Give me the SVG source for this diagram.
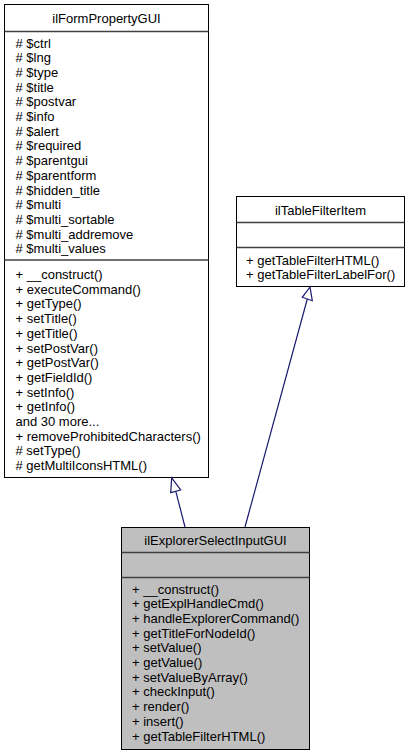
<svg xmlns="http://www.w3.org/2000/svg" width="413" height="756" viewBox="0 0 413 756">
<style>
.box{fill:#fff;stroke:#000;stroke-width:1}
.cur{fill:#bfbfbf;stroke:#000;stroke-width:1}
.sep{stroke:#404040;stroke-width:1.5}
text{font-family:"Liberation Sans",Arial,sans-serif;font-size:13px;fill:#000}
.t{text-anchor:middle}
.edge{stroke:#191970;stroke-width:1.2;fill:none}
.head{stroke:#191970;stroke-width:1.2;fill:#fff}
</style>
<rect width="413" height="756" fill="#fff"/>
<g id="node_ilFormPropertyGUI">
<rect class="box" x="4.5" y="4.5" width="204" height="473"/>
<line class="sep" x1="4.5" y1="31.5" x2="208.5" y2="31.5"/>
<line class="sep" x1="4.5" y1="260" x2="208.5" y2="260"/>
<text class="t" x="106.5" y="22.5">ilFormPropertyGUI</text>
<text x="15.5" y="47.5"># $ctrl</text>
<text x="15.5" y="62.2"># $lng</text>
<text x="15.5" y="76.9"># $type</text>
<text x="15.5" y="91.6"># $title</text>
<text x="15.5" y="106.3"># $postvar</text>
<text x="15.5" y="121"># $info</text>
<text x="15.5" y="135.7"># $alert</text>
<text x="15.5" y="150.4"># $required</text>
<text x="15.5" y="165.1"># $parentgui</text>
<text x="15.5" y="179.8"># $parentform</text>
<text x="15.5" y="194.5"># $hidden_title</text>
<text x="15.5" y="209.2"># $multi</text>
<text x="15.5" y="223.9"># $multi_sortable</text>
<text x="15.5" y="238.6"># $multi_addremove</text>
<text x="15.5" y="253.3"># $multi_values</text>
<text x="15.5" y="279">+ __construct()</text>
<text x="15.5" y="293.7">+ executeCommand()</text>
<text x="15.5" y="308.4">+ getType()</text>
<text x="15.5" y="323.1">+ setTitle()</text>
<text x="15.5" y="337.8">+ getTitle()</text>
<text x="15.5" y="352.5">+ setPostVar()</text>
<text x="15.5" y="367.2">+ getPostVar()</text>
<text x="15.5" y="381.9">+ getFieldId()</text>
<text x="15.5" y="396.6">+ setInfo()</text>
<text x="15.5" y="411.3">+ getInfo()</text>
<text x="15.5" y="426">and 30 more...</text>
<text x="15.5" y="440.7">+ removeProhibitedCharacters()</text>
<text x="15.5" y="455.4"># setType()</text>
<text x="15.5" y="470.1"># getMultiIconsHTML()</text>
</g>
<g id="node_ilTableFilterItem">
<rect class="box" x="236.5" y="196.5" width="168" height="90"/>
<line class="sep" x1="236.5" y1="222.5" x2="404.5" y2="222.5"/>
<line class="sep" x1="236.5" y1="247.5" x2="404.5" y2="247.5"/>
<text class="t" x="320.5" y="214.5">ilTableFilterItem</text>
<text x="246" y="264.5">+ getTableFilterHTML()</text>
<text x="246" y="278.5">+ getTableFilterLabelFor()</text>
</g>
<g id="node_ilExplorerSelectInputGUI">
<rect class="cur" x="121.5" y="527.5" width="188" height="222"/>
<line class="sep" x1="121.5" y1="552.5" x2="309.5" y2="552.5"/>
<line class="sep" x1="121.5" y1="577.5" x2="309.5" y2="577.5"/>
<text class="t" x="215.5" y="545">ilExplorerSelectInputGUI</text>
<text x="132" y="593.5">+ __construct()</text>
<text x="132" y="608.2">+ getExplHandleCmd()</text>
<text x="132" y="622.9">+ handleExplorerCommand()</text>
<text x="132" y="637.6">+ getTitleForNodeId()</text>
<text x="132" y="652.3">+ setValue()</text>
<text x="132" y="667">+ getValue()</text>
<text x="132" y="681.7">+ setValueByArray()</text>
<text x="132" y="696.4">+ checkInput()</text>
<text x="132" y="711.1">+ render()</text>
<text x="132" y="725.8">+ insert()</text>
<text x="132" y="740.5">+ getTableFilterHTML()</text>
</g>
<g id="edges">
<line class="edge" x1="185" y1="527" x2="175.8" y2="491.3"/>
<polygon class="head" points="171.7,477.8 170.7,492.7 180.7,490"/>
<line class="edge" x1="245" y1="527" x2="307.3" y2="299"/>
<polygon class="head" points="310,287 302.3,297.3 312.3,300.7"/>
</g>
</svg>
